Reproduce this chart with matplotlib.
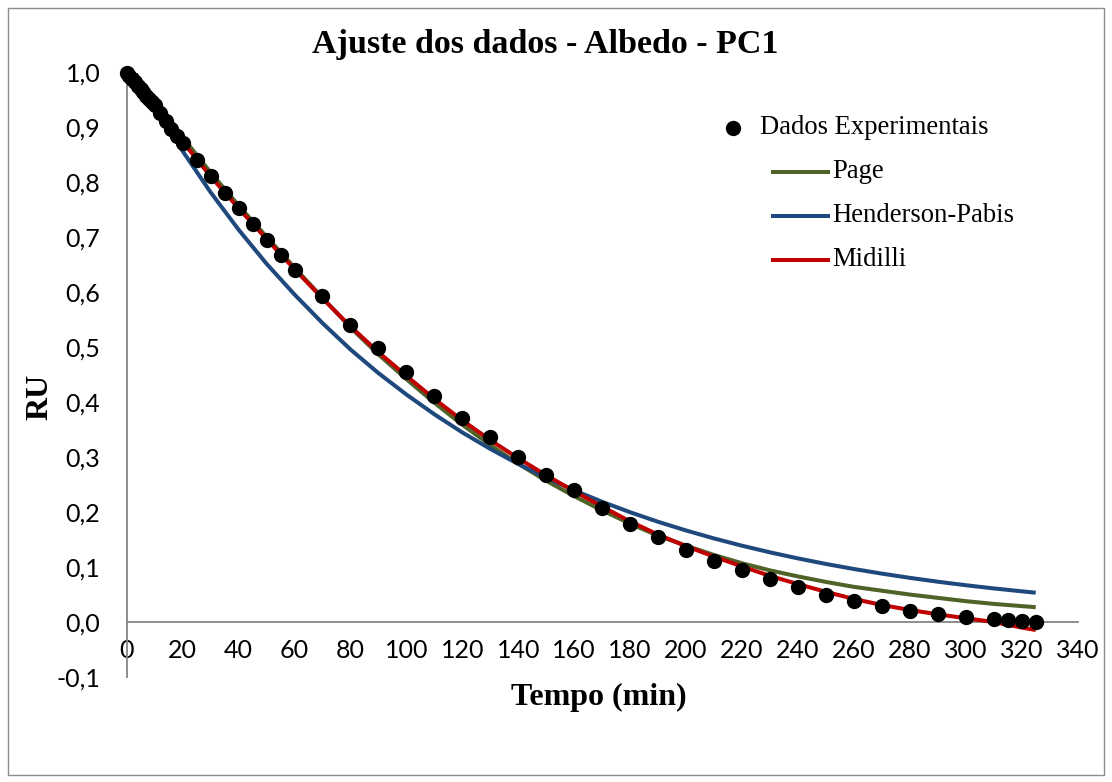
import matplotlib
matplotlib.use("Agg")
import matplotlib.pyplot as plt
from matplotlib.lines import Line2D
from matplotlib.patches import Rectangle

# ---------------- data ----------------
t_exp = [0, 1, 2, 3, 4, 5, 6, 7, 8, 9, 10, 12, 14, 16, 18, 20, 25, 30, 35, 40, 45,
         50, 55, 60, 70, 80, 90, 100, 110, 120, 130, 140, 150, 160, 170, 180, 190,
         200, 210, 220, 230, 240, 250, 260, 270, 280, 290, 300, 310, 315, 320, 325]
ru_exp = [1.000, 0.994, 0.988, 0.982, 0.976, 0.970, 0.964, 0.958, 0.952, 0.946, 0.940,
          0.926, 0.912, 0.897, 0.885, 0.872, 0.840, 0.811, 0.781, 0.754, 0.725,
          0.695, 0.668, 0.641, 0.593, 0.541, 0.498, 0.455, 0.411, 0.372, 0.337,
          0.300, 0.267, 0.240, 0.207, 0.179, 0.154, 0.132, 0.111, 0.0945, 0.078,
          0.063, 0.050, 0.039, 0.030, 0.021, 0.0145, 0.0097, 0.005, 0.0036, 0.0024, 0.0]

t_fit = [0, 5, 10, 20, 30, 40, 50, 60, 70, 80, 90, 100, 110, 120, 130, 140, 150, 160,
         170, 180, 190, 200, 210, 220, 230, 240, 250, 260, 270, 280, 290, 300, 310, 320, 325]
ru_page = [1.000, 0.983, 0.954, 0.882, 0.818, 0.758, 0.701, 0.645, 0.590, 0.536, 0.487,
           0.442, 0.399, 0.359, 0.322, 0.288, 0.257, 0.229, 0.203, 0.179, 0.157, 0.139,
           0.122, 0.107, 0.094, 0.083, 0.073, 0.064, 0.057, 0.050, 0.044, 0.038, 0.033,
           0.029, 0.027]
ru_henderson = [1.028, 0.982, 0.938, 0.857, 0.782, 0.714, 0.652, 0.596, 0.544, 0.496,
                0.453, 0.414, 0.378, 0.345, 0.315, 0.2875, 0.2625, 0.2397, 0.2188, 0.1998,
                0.1824, 0.1666, 0.1521, 0.1389, 0.1268, 0.1158, 0.1057, 0.0965, 0.0881,
                0.0804, 0.0734, 0.0670, 0.0612, 0.0559, 0.0534]
ru_midilli = [1.000, 0.970, 0.940, 0.874, 0.811, 0.753, 0.697, 0.642, 0.589, 0.538,
              0.491, 0.448, 0.406, 0.367, 0.331, 0.298, 0.267, 0.238, 0.210, 0.183,
              0.159, 0.138, 0.119, 0.101, 0.084, 0.069, 0.055, 0.042, 0.031, 0.022,
              0.014, 0.007, 0.000, -0.010, -0.0145]

x_ticks = list(range(0, 341, 20))
y_ticks = [-0.1, 0.0, 0.1, 0.2, 0.3, 0.4, 0.5, 0.6, 0.7, 0.8, 0.9, 1.0]
y_tick_labels = ["-0,1", "0,0", "0,1", "0,2", "0,3", "0,4", "0,5", "0,6", "0,7",
                 "0,8", "0,9", "1,0"]

series_names = ["Dados Experimentais", "Page", "Henderson-Pabis", "Midilli"]
title = "Ajuste dos dados - Albedo - PC1"
xlabel = "Tempo (min)"
ylabel = "RU"

# ---------------- style ----------------
C_PAGE = "#4F6228"
C_HEND = "#1F497D"
C_MID = "#C00000"
C_AX = "#868686"
SERIF = "Liberation Serif"
SANS = "Lato"

W, H = 1112, 782
fig = plt.figure(figsize=(W / 100, H / 100), dpi=100)
fig.patch.set_facecolor("white")

def fx(px):
    return px / W

def fy(py):
    return 1 - py / H

ax = fig.add_axes([fx(126.7), fy(677), (1077.7 - 126.7) / W, (677 - 72.5) / H])
ax.set_xlim(0, 340)
ax.set_ylim(-0.1, 1.0)

lw = 2.9
ax.plot(t_fit, ru_page, color=C_PAGE, lw=lw, zorder=3, solid_capstyle="butt")
ax.plot(t_fit, ru_henderson, color=C_HEND, lw=lw, zorder=3, solid_capstyle="butt")
ax.plot(t_fit, ru_midilli, color=C_MID, lw=lw, zorder=4, solid_capstyle="butt")
ax.plot(t_exp, ru_exp, linestyle="none", marker="o", color="black", ms=10,
        zorder=5, clip_on=False)

for s in ["top", "right"]:
    ax.spines[s].set_visible(False)
ax.spines["bottom"].set_position(("data", 0))
for s in ["left", "bottom"]:
    ax.spines[s].set_color(C_AX)
    ax.spines[s].set_linewidth(1.3)
    ax.spines[s].set_zorder(2)

ax.set_xticks(x_ticks)
ax.set_xticklabels([str(v) for v in x_ticks])
ax.set_yticks(y_ticks)
ax.set_yticklabels(y_tick_labels)
ax.tick_params(axis="x", length=0, pad=12, labelsize=18)
ax.tick_params(axis="y", length=0, pad=19, labelsize=18)
for lab in ax.get_xticklabels() + ax.get_yticklabels():
    lab.set_fontfamily(SANS)
    lab.set_color("black")

# titles / labels
fig.text(fx(545), fy(45), title, ha="center", va="center", fontsize=24.5,
         fontweight="bold", family=SERIF)
fig.text(fx(599), fy(697), xlabel, ha="center", va="center", fontsize=23,
         fontweight="bold", family=SERIF)
fig.text(fx(40), fy(397), ylabel, ha="center", va="center", fontsize=23,
         fontweight="bold", family=SERIF, rotation=90)

# legend (manual, Excel-like)
leg_fs = 19.2
fig.add_artist(Line2D([fx(733)], [fy(128)], marker="o", color="black", ms=10,
                      linestyle="none", transform=fig.transFigure))
fig.text(fx(760), fy(128), series_names[0], ha="left", va="center",
         fontsize=leg_fs, family=SERIF)
for name, col, py in zip(series_names[1:], [C_PAGE, C_HEND, C_MID], [172, 216, 260]):
    fig.add_artist(Line2D([fx(773), fx(828)], [fy(py), fy(py)], color=col, lw=lw,
                          transform=fig.transFigure))
    fig.text(fx(832), fy(py), name, ha="left", va="center", fontsize=leg_fs,
             family=SERIF)

# outer chart border
fig.add_artist(Rectangle((fx(8), fy(775)), (1104 - 8) / W, (775 - 8) / H, fill=False,
                         edgecolor="#8c8c8c", lw=1.0, transform=fig.transFigure))

fig.savefig("out.png", dpi=100, facecolor="white")
